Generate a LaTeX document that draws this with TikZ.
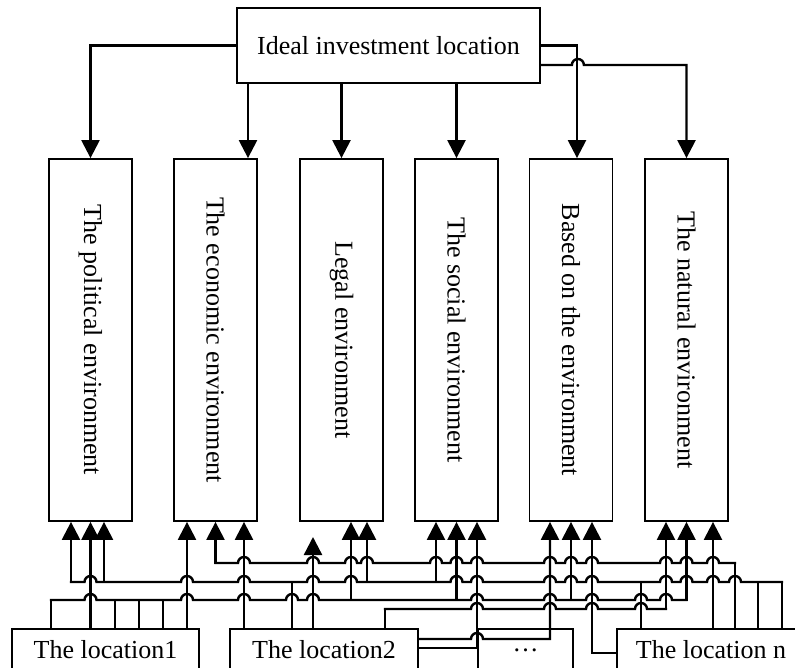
\documentclass[tikz,border=0pt]{standalone}
\usepackage{fontspec}
\setmainfont{Liberation Serif}
\usepackage{graphicx}
\usetikzlibrary{arrows.meta,calc}

\newcommand{\hopline}[4]{%
  \draw[wire] (#2,#1) \foreach \xc in {#4}{ -- ({\xc-6},#1) arc[start angle=180,end angle=0,radius=6pt] } -- (#3,#1);}

\begin{document}
\begin{tikzpicture}[x=1pt,y=1pt,
  box/.style={draw,line width=1.8pt,fill=white,inner sep=0pt},
  col/.style={box,minimum width=83pt,minimum height=362pt},
  loc/.style={box,minimum width=188pt,minimum height=42pt},
  wire/.style={line width=2.4pt,line cap=rect},
  arr/.style={wire,-{Triangle[length=18pt,width=18pt]}},
  font=\fontsize{26}{30}\selectfont]
  \useasboundingbox (0,0) rectangle (795,-668);
  \clip (0,0) rectangle (795,-668);

  \node[box,minimum width=303pt,minimum height=75pt] (ideal) at (388.5,-45.5) {Ideal investment location};

  \node[col] (pol) at (90.5,-340) {\rotatebox{-90}{The political environment}};
  \node[col] (eco) at (215.5,-340) {\rotatebox{-90}{The economic environment}};
  \node[col] (leg) at (341.5,-340) {\rotatebox{-90}{Legal environment}};
  \node[col] (soc) at (456.5,-340) {\rotatebox{-90}{The social environment}};
  \node[col] (bas) at (571,-340) {\rotatebox{-90}{Based on the environment}};
  \node[col] (nat) at (686.5,-340) {\rotatebox{-90}{The natural environment}};

  \node[loc,minimum width=187pt] (loc1) at (105.5,-650) {The location1};
  \node[loc] (loc2) at (324,-650) {The location2};
  \node[loc,minimum width=95pt] (dots) at (525.5,-650) {…};
  \node[loc] (locn) at (711,-650) {The location n};

  \coordinate (t2) at ($(eco.north)+(32.5,0)$);
  \coordinate (t5) at ($(bas.north)+(6,0)$);
  \coordinate (p1) at ($(pol.south)+(-19.5,0)$);
  \coordinate (p3) at ($(pol.south)+(13.5,0)$);
  \coordinate (e1) at ($(eco.south)+(-28.5,0)$);
  \coordinate (e3) at ($(eco.south)+(28.5,0)$);
  \coordinate (l1) at (313,-537);
  \coordinate (l2) at ($(leg.south)+(9.5,0)$);
  \coordinate (l3) at ($(leg.south)+(25.5,0)$);
  \coordinate (s1) at ($(soc.south)+(-20.5,0)$);
  \coordinate (s3) at ($(soc.south)+(20.5,0)$);
  \coordinate (b1) at ($(bas.south)+(-21,0)$);
  \coordinate (b3) at ($(bas.south)+(21,0)$);
  \coordinate (n1) at ($(nat.south)+(-20.5,0)$);
  \coordinate (n3) at ($(nat.south)+(26.5,0)$);
  \coordinate (yA) at (0,-563);
  \coordinate (yB) at (0,-582);
  \coordinate (yC) at (0,-600);
  \coordinate (yD) at (0,-609);

  \draw[arr] (ideal.west) -| (pol.north);
  \draw[arr] (t2 |- ideal.south) -- (t2);
  \draw[arr] (leg.north |- ideal.south) -- (leg.north);
  \draw[arr] (soc.north |- ideal.south) -- (soc.north);
  \draw[arr] (ideal.east) -| (t5);
  \draw[arr] ([yshift=-19.5pt]ideal.east) -- ++(31,0) arc[start angle=180,end angle=0,radius=6pt] -| (nat.north);

  \draw[arr] (pol.south |- loc1.north) -- (pol.south);
  \draw[arr] (e1 |- loc1.north) -- (e1);
  \draw[arr] (e3 |- loc2.north) -- (e3);
  \draw[arr] (l1 |- loc2.north) -- (l1);
  \draw[arr] ([yshift=2pt]loc2.east) -| (s3);
  \draw[arr] ([yshift=11pt]loc2.east) -- (471,-639) arc[start angle=180,end angle=0,radius=6pt] -| (b1);
  \draw[arr] ([yshift=-3pt]locn.west) -| (b3);
  \draw[arr] (n3 |- locn.north) -- (n3);

  \hopline{-563}{215.5}{735}{244,313,351,367,436,456.5,477,550,571,592,666,686.5,713}
  \draw[arr] (eco.south |- yA) -- (eco.south);
  \draw[wire] (735,-563) -- (735,-563 |- locn.north);

  \hopline{-582}{71}{782}{90.5,187,244,313,351,456.5,477,550,571,592,666,686.5,713,735}
  \draw[arr] (p1 |- yB) -- (p1);
  \draw[arr] (p3 |- yB) -- (p3);
  \draw[arr] (l3 |- yB) -- (l3);
  \draw[arr] (s1 |- yB) -- (s1);
  \draw[wire] (292,-582) -- (292,-582 |- loc2.north);
  \foreach \xc in {641,758,782}
    \draw[wire] (\xc,-582) -- (\xc,-582 |- locn.north);

  \hopline{-600}{51}{686.5}{90.5,187,244,292,313,477,550,592,641,666}
  \foreach \xc in {51,115,139,163}
    \draw[wire] (\xc,-600) -- (\xc,-600 |- loc1.north);
  \draw[arr] (l2 |- yC) -- (l2);
  \draw[arr] (soc.south |- yC) -- (soc.south);
  \draw[arr] (bas.south |- yC) -- (bas.south);
  \draw[arr] (nat.south |- yC) -- (nat.south);

  \hopline{-609}{385}{666}{477,550,592,641}
  \draw[wire] (385,-609) -- (385,-609 |- loc2.north);
  \draw[arr] (n1 |- yD) -- (n1);
\end{tikzpicture}
\end{document}
